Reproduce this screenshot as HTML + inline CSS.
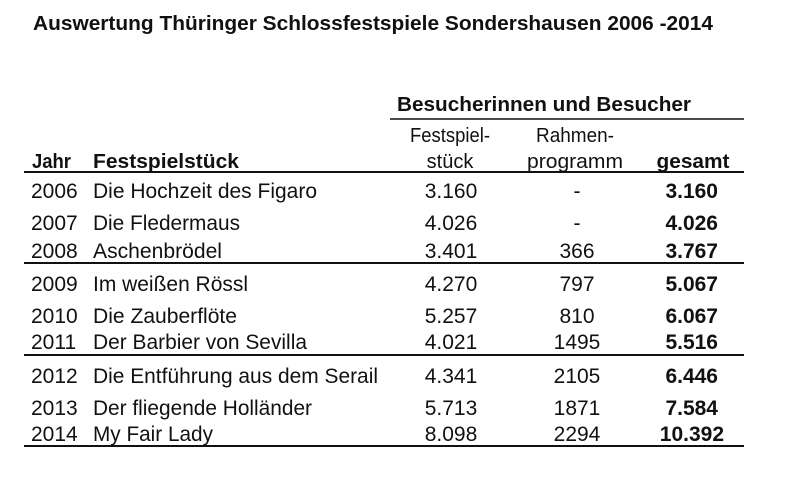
<!DOCTYPE html>
<html><head><meta charset="utf-8"><style>
html,body{margin:0;padding:0;background:#fff;}
svg{display:block;}
text{font-family:"Liberation Sans",Arial,sans-serif;fill:#111;}
.b{font-weight:bold;}
</style></head><body>
<svg width="800" height="478" viewBox="0 0 800 478">
<text x="33" y="30" class="b" font-size="20" textLength="680" lengthAdjust="spacingAndGlyphs">Auswertung Thüringer Schlossfestspiele Sondershausen 2006 -2014</text>
<text x="397" y="111" class="b" font-size="20" textLength="294" lengthAdjust="spacingAndGlyphs">Besucherinnen und Besucher</text>
<line x1="390" y1="119" x2="744" y2="119" stroke="#111" stroke-width="1.5"/>
<g font-size="20">
<text x="450" y="142" text-anchor="middle" textLength="80" lengthAdjust="spacingAndGlyphs">Festspiel-</text>
<text x="450" y="168" text-anchor="middle">stück</text>
<text x="575" y="142" text-anchor="middle" textLength="78" lengthAdjust="spacingAndGlyphs">Rahmen-</text>
<text x="575" y="168" text-anchor="middle" textLength="96" lengthAdjust="spacingAndGlyphs">programm</text>
<text x="693" y="168" class="b" text-anchor="middle" textLength="73" lengthAdjust="spacingAndGlyphs">gesamt</text>
<text x="32" y="168" class="b" textLength="39" lengthAdjust="spacingAndGlyphs">Jahr</text>
<text x="93" y="168" class="b" textLength="146" lengthAdjust="spacingAndGlyphs">Festspielstück</text>
</g>
<line x1="24" y1="172" x2="744" y2="172" stroke="#111" stroke-width="2"/>
<line x1="24" y1="263" x2="744" y2="263" stroke="#111" stroke-width="2"/>
<line x1="24" y1="355" x2="744" y2="355" stroke="#111" stroke-width="2"/>
<line x1="24" y1="446" x2="744" y2="446" stroke="#111" stroke-width="2"/>
<g font-size="21">
<g transform="translate(0,198)"><text x="31">2006</text><text x="93" textLength="224" lengthAdjust="spacingAndGlyphs">Die Hochzeit des Figaro</text><text x="451" text-anchor="middle">3.160</text><text x="577" text-anchor="middle">-</text><text x="718" text-anchor="end" class="b">3.160</text></g>
<g transform="translate(0,230)"><text x="31">2007</text><text x="93" textLength="147" lengthAdjust="spacingAndGlyphs">Die Fledermaus</text><text x="451" text-anchor="middle">4.026</text><text x="577" text-anchor="middle">-</text><text x="718" text-anchor="end" class="b">4.026</text></g>
<g transform="translate(0,258)"><text x="31">2008</text><text x="93" textLength="129" lengthAdjust="spacingAndGlyphs">Aschenbrödel</text><text x="451" text-anchor="middle">3.401</text><text x="577" text-anchor="middle">366</text><text x="718" text-anchor="end" class="b">3.767</text></g>
<g transform="translate(0,291)"><text x="31">2009</text><text x="93" textLength="155" lengthAdjust="spacingAndGlyphs">Im weißen Rössl</text><text x="451" text-anchor="middle">4.270</text><text x="577" text-anchor="middle">797</text><text x="718" text-anchor="end" class="b">5.067</text></g>
<g transform="translate(0,323)"><text x="31">2010</text><text x="93" textLength="144" lengthAdjust="spacingAndGlyphs">Die Zauberflöte</text><text x="451" text-anchor="middle">5.257</text><text x="577" text-anchor="middle">810</text><text x="718" text-anchor="end" class="b">6.067</text></g>
<g transform="translate(0,349)"><text x="31">2011</text><text x="93" textLength="214" lengthAdjust="spacingAndGlyphs">Der Barbier von Sevilla</text><text x="451" text-anchor="middle">4.021</text><text x="577" text-anchor="middle">1495</text><text x="718" text-anchor="end" class="b">5.516</text></g>
<g transform="translate(0,383)"><text x="31">2012</text><text x="93" textLength="285" lengthAdjust="spacingAndGlyphs">Die Entführung aus dem Serail</text><text x="451" text-anchor="middle">4.341</text><text x="577" text-anchor="middle">2105</text><text x="718" text-anchor="end" class="b">6.446</text></g>
<g transform="translate(0,415)"><text x="31">2013</text><text x="93" textLength="219" lengthAdjust="spacingAndGlyphs">Der fliegende Holländer</text><text x="451" text-anchor="middle">5.713</text><text x="577" text-anchor="middle">1871</text><text x="718" text-anchor="end" class="b">7.584</text></g>
<g transform="translate(0,441)"><text x="31">2014</text><text x="93" textLength="120" lengthAdjust="spacingAndGlyphs">My Fair Lady</text><text x="451" text-anchor="middle">8.098</text><text x="577" text-anchor="middle">2294</text><text x="724" text-anchor="end" class="b">10.392</text></g>
</g>
</svg>
</body></html>
